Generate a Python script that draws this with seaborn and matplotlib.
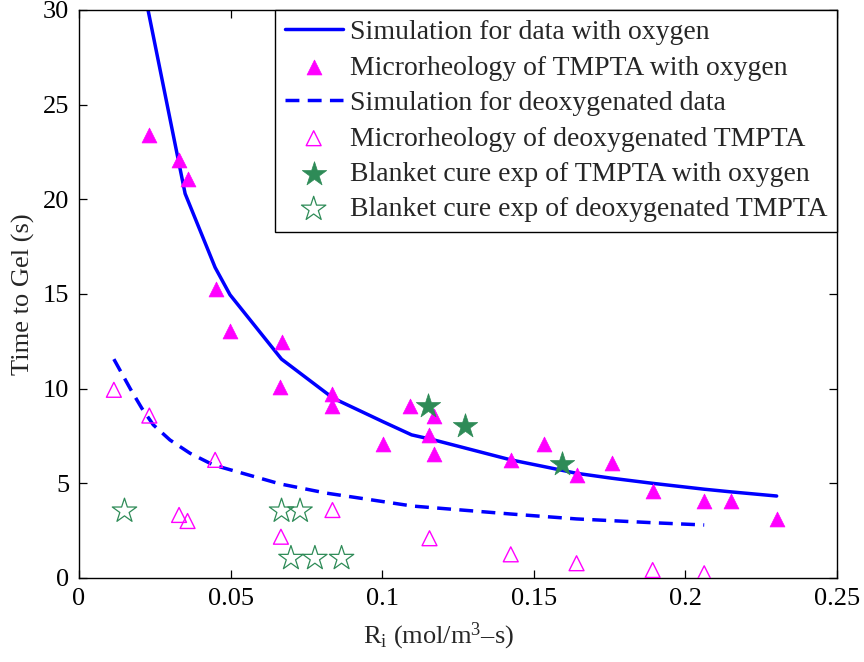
import numpy as np
import pandas as pd
import matplotlib
matplotlib.use("Agg")
import matplotlib.pyplot as plt
import seaborn as sns

# ---- data ----
sim_o2_x = [0.0200, 0.0331, 0.0350, 0.0449, 0.0498, 0.0668, 0.0838, 0.1002, 0.1097,
            0.1171, 0.1424, 0.1535, 0.1641, 0.1757, 0.1892, 0.2062, 0.2150, 0.2301]
sim_o2_y = [32.2, 21.8, 20.3, 16.4, 14.96, 11.56, 9.5, 8.26, 7.56,
            7.29, 6.24, 5.88, 5.53, 5.27, 5.0, 4.69, 4.55, 4.33]

sim_deox_x = [0.0115, 0.0170, 0.0207, 0.0245, 0.0300, 0.0366, 0.0443, 0.0531, 0.0663,
              0.0817, 0.0905, 0.1100, 0.1424, 0.1641, 0.1892, 0.2062]
sim_deox_y = [11.56, 9.97, 8.97, 8.09, 7.29, 6.59, 5.97, 5.57, 4.97,
              4.48, 4.27, 3.80, 3.38, 3.12, 2.92, 2.80]

micro_o2_x = [0.0232, 0.0330, 0.0358, 0.0451, 0.0498, 0.0668, 0.0663, 0.0836, 0.0836,
              0.1002, 0.1092, 0.1171, 0.1156, 0.1171, 0.1424, 0.1535, 0.1641, 0.1757,
              0.1892, 0.2062, 0.2150, 0.2301]
micro_o2_y = [23.4, 22.1, 21.1, 15.26, 13.05, 12.49, 10.08, 9.72, 9.06,
              7.08, 9.08, 8.56, 7.56, 6.55, 6.24, 7.08, 5.44, 6.10,
              4.60, 4.09, 4.09, 3.10]

micro_deox_x = [0.0115, 0.0232, 0.0449, 0.0330, 0.0358, 0.0666, 0.0836, 0.1156,
                0.1424, 0.1641, 0.1892, 0.2062]
micro_deox_y = [9.94, 8.58, 6.24, 3.33, 3.01, 2.18, 3.59, 2.10,
                1.25, 0.78, 0.42, 0.25]

blanket_o2_x = [0.1150, 0.1273, 0.1594]
blanket_o2_y = [9.06, 8.03, 6.03]

blanket_deox_x = [0.0150, 0.0668, 0.0729, 0.0699, 0.0778, 0.0866]
blanket_deox_y = [3.54, 3.54, 3.54, 1.04, 1.04, 1.04]

labels = ["Simulation for data with oxygen",
          "Microrheology of TMPTA with oxygen",
          "Simulation for deoxygenated data",
          "Microrheology of deoxygenated TMPTA",
          "Blanket cure exp of TMPTA with oxygen",
          "Blanket cure exp of deoxygenated TMPTA"]

xticks = [0, 0.05, 0.1, 0.15, 0.2, 0.25]
xticklabels = ["0", "0.05", "0.1", "0.15", "0.2", "0.25"]
yticks = [0, 5, 10, 15, 20, 25, 30]

# ---- style ----
sns.set_theme(style="ticks")
plt.rcParams["font.family"] = ["Liberation Serif", "DejaVu Serif"]
plt.rcParams["mathtext.fontset"] = "custom"
plt.rcParams["mathtext.rm"] = "Liberation Serif"
plt.rcParams["mathtext.it"] = "Liberation Serif:italic"
FS = 19
LFS = 20

fig = plt.figure(figsize=(8.64, 6.62), dpi=100)
ax = fig.add_axes([79 / 864, 1 - 578 / 662, 758 / 864, 568 / 662])

blue = "#0000FF"
mag = "#FF00FF"
green = "#2E8B57"

sns.lineplot(x=sim_o2_x, y=sim_o2_y, ax=ax, color=blue, linewidth=2.5,
             sort=False, label=labels[0])
sns.scatterplot(x=micro_o2_x, y=micro_o2_y, ax=ax, marker="^", s=115,
                color=mag, edgecolor=mag, linewidth=0.5, label=labels[1], zorder=3)
sns.lineplot(x=sim_deox_x, y=sim_deox_y, ax=ax, color=blue, linewidth=2.5,
             sort=False, label=labels[2])
ax.lines[-1].set_dashes([4, 2.4])
sns.scatterplot(x=micro_deox_x, y=micro_deox_y, ax=ax, marker="^", s=115,
                facecolors="none", edgecolor=mag, linewidth=1.0, label=labels[3], zorder=3)
sns.scatterplot(x=blanket_o2_x, y=blanket_o2_y, ax=ax, marker="*", s=340,
                color=green, edgecolor=green, linewidth=0.5, label=labels[4], zorder=4)
sns.scatterplot(x=blanket_deox_x, y=blanket_deox_y, ax=ax, marker="*", s=340,
                facecolors="none", edgecolor=green, linewidth=0.9, label=labels[5], zorder=4)

ax.set_xlim(0, 0.25)
ax.set_ylim(0, 30)
ax.set_xticks(xticks)
ax.set_xticklabels(xticklabels)
ax.set_yticks(yticks)
ax.tick_params(direction="in", length=6, width=0.9, top=True, right=True,
               labelsize=FS, colors="black", pad=7)
for sp in ax.spines.values():
    sp.set_linewidth(1.0)
    sp.set_color("black")
    sp.set_visible(True)

ax.set_xlabel("R$_\\mathrm{i}$ (mol/m$^3$\u2013s)", fontsize=FS, labelpad=4)
ax.set_ylabel("Time to Gel (s)", fontsize=FS, labelpad=6)
ax.xaxis.set_label_coords(0.474, -0.075)

handles, labs = ax.get_legend_handles_labels()
hmap = dict(zip(labs, handles))
leg = ax.legend([hmap[l] for l in labels], labels, loc="upper right",
                bbox_to_anchor=(1.0, 1.0), borderaxespad=0.0, fontsize=LFS,
                frameon=True, fancybox=False, edgecolor="black", framealpha=1,
                handlelength=2.1, handletextpad=0.25, labelspacing=0.36,
                borderpad=0.35)
leg.get_frame().set_linewidth(1.0)

fig.savefig("out.png", dpi=100)
